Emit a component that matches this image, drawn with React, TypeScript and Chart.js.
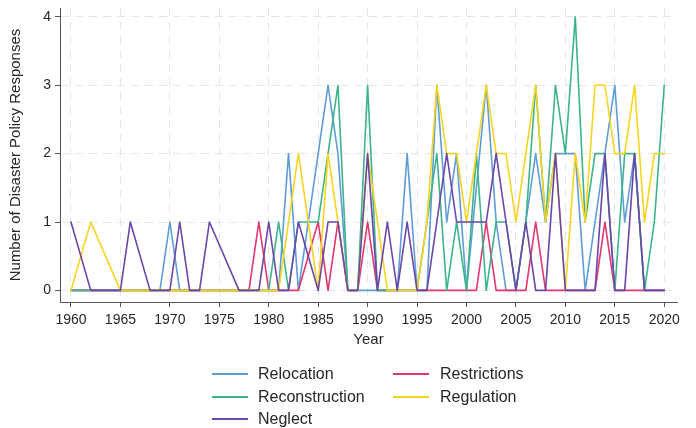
import React, { useEffect, useRef } from 'react';
import { Chart, registerables } from 'chart.js';

Chart.register(...registerables);

// Years present in the data (years with no observations are absent and the lines connect across them)
const years = [
  1960, 1962, 1965, 1966, 1968, 1969, 1970, 1971, 1972, 1973, 1974,
  1977, 1978, 1979, 1980, 1981, 1982, 1983,
  1985, 1986, 1987, 1988, 1989, 1990, 1991, 1992, 1993, 1994,
  1995, 1996, 1997, 1998, 1999, 2000, 2001, 2002, 2003, 2004,
  2005, 2006, 2007, 2008, 2009, 2010, 2011, 2012, 2013, 2014,
  2015, 2016, 2017, 2018, 2019, 2020,
];

const relocation = [
  0, 0, 0, 0, 0, 0, 1, 0, 0, 0, 0,
  0, 0, 0, 0, 0, 2, 0,
  2, 3, 2, 0, 0, 0, 0, 0, 0, 2,
  0, 0, 3, 1, 2, 0, null, 3, 1, 0,
  0, 1, 2, 1, 2, 2, 2, 0, 1, 2,
  3, 1, 2, 0, 0, 0,
];

const restrictions = [
  0, 0, 0, 0, 0, 0, 0, 0, 0, 0, 0,
  0, 0, 1, 0, 0, 0, 0,
  1, 0, 1, 0, 0, 1, 0, 0, 0, 0,
  0, 0, 0, 0, 0, 0, 0, 1, 0, 0,
  0, 0, 1, 0, 0, 0, 0, 0, 0, 1,
  0, 0, 0, 0, 0, 0,
];

const reconstruction = [
  0, 0, 0, 0, 0, 0, 0, 0, 0, 0, 0,
  0, 0, 0, 0, 1, 0, 1,
  1, 2, 3, 0, 0, 3, 0, 0, 0, 0,
  0, 1, 2, 0, 1, 0, 2, 0, 1, 1,
  0, 1, 3, 1, 3, 2, 4, 1, 2, 2,
  0, 2, 2, 0, 1, 3,
];

const regulation = [
  0, 1, 0, 0, 0, 0, 0, 0, 0, 0, 0,
  0, 0, 0, 0, 0, 1, 2,
  0, 2, 1, 0, 0, 2, 1, 0, 0, 0,
  0, 1, 3, 2, 2, 1, 2, 3, 2, 2,
  1, 2, 3, 1, 2, 0, 2, 1, 3, 3,
  2, 2, 3, 1, 2, 2,
];

const neglect = [
  1, 0, 0, 1, 0, 0, 0, 1, 0, 0, 1,
  0, 0, 0, 1, 0, 0, 1,
  0, 1, 1, 0, 0, 2, 0, 1, 0, 1,
  0, 0, 1, 2, 1, 1, 1, 1, 2, 1,
  0, 1, 0, 0, 2, 0, 0, 0, 0, 2,
  0, 0, 2, 0, 0, 0,
];

const xTicks = [1960, 1965, 1970, 1975, 1980, 1985, 1990, 1995, 2000, 2005, 2010, 2015, 2020];
const yTicks = [0, 1, 2, 3, 4];

const seriesNames = ['Relocation', 'Restrictions', 'Reconstruction', 'Regulation', 'Neglect'];
const seriesColors = ['#5f9dd8', '#e2366c', '#3db38a', '#f6d41f', '#6a47a8'];
// drawing order: lower number drawn on top
const seriesOrder = [5, 4, 3, 2, 1];
const seriesValues = [relocation, restrictions, reconstruction, regulation, neglect];

const FONT = '"Liberation Sans", Arial, Helvetica, sans-serif';
const TEXT = '#262626';

export default function App() {
  const ref = useRef<HTMLCanvasElement | null>(null);

  useEffect(() => {
    if (!ref.current) return;
    const datasets = seriesNames.map((name, k) => ({
      label: name,
      data: years.map((yr, i) => ({ x: yr, y: seriesValues[k][i] })),
      borderColor: seriesColors[k],
      backgroundColor: seriesColors[k],
      borderWidth: 1.6,
      borderJoinStyle: 'round',
      borderCapStyle: 'round',
      pointRadius: 0,
      tension: 0,
      spanGaps: true,
      fill: false,
      order: seriesOrder[k],
    }));

    const chart = new Chart(ref.current, {
      type: 'line',
      data: { datasets },
      options: {
        animation: false,
        responsive: false,
        maintainAspectRatio: false,
        layout: { padding: { left: 0, right: 19, top: 8, bottom: 78 } },
        plugins: {
          legend: { display: false },
          tooltip: { enabled: false },
        },
        scales: {
          x: {
            type: 'linear',
            min: 1958.89,
            max: 2021.29,
            afterBuildTicks: (axis: any) => {
              axis.ticks = xTicks.map((v) => ({ value: v }));
            },
            afterFit: (s: any) => {
              s.height = 48;
              s.paddingLeft = 0;
              s.paddingRight = 0;
            },
            ticks: {
              font: { family: FONT, size: 14 },
              color: TEXT,
              padding: 5,
              maxRotation: 0,
              autoSkip: false,
              callback: (v: any) => String(v),
            },
            grid: {
              color: '#e3e7ea',
              lineWidth: 1,
              tickColor: '#555555',
              tickLength: 5,
              tickWidth: 1,
            },
            border: { display: true, color: '#555555', width: 1, dash: [8, 6] },
            title: {
              display: true,
              text: 'Year',
              font: { family: FONT, size: 15 },
              color: TEXT,
              padding: { top: 0, bottom: 1 },
            },
          },
          y: {
            type: 'linear',
            min: -0.17,
            max: 4.13,
            afterBuildTicks: (axis: any) => {
              axis.ticks = yTicks.map((v) => ({ value: v }));
            },
            afterFit: (s: any) => {
              s.width = 60;
              s.paddingTop = 0;
              s.paddingBottom = 0;
            },
            ticks: {
              font: { family: FONT, size: 14 },
              color: TEXT,
              padding: 4,
              callback: (v: any) => String(v),
            },
            grid: {
              color: '#e3e7ea',
              lineWidth: 1,
              tickColor: '#555555',
              tickLength: 5,
              tickWidth: 1,
            },
            border: { display: true, color: '#555555', width: 1, dash: [8, 6] },
            title: {
              display: true,
              text: 'Number of Disaster Policy Responses',
              font: { family: FONT, size: 15 },
              color: TEXT,
              padding: { top: 7, bottom: 0 },
            },
          },
        },
      },
    } as any);

    return () => chart.destroy();
  }, []);

  // legend layout: [series index, line left x, text left x, center y]
  const legendItems: Array<[number, number, number, number]> = [
    [0, 212, 258, 374],
    [1, 393, 440, 374],
    [2, 212, 258, 396.5],
    [3, 393, 440, 396.5],
    [4, 212, 258, 418.5],
  ];

  return (
    <div
      style={{
        position: 'fixed',
        left: 0,
        top: 0,
        width: 696,
        height: 428,
        background: '#ffffff',
        overflow: 'hidden',
      }}
    >
      <canvas ref={ref} width={696} height={428} style={{ display: 'block', width: 696, height: 428 }} />
      {legendItems.map(([k, lx, tx, cy]) => (
        <React.Fragment key={seriesNames[k]}>
          <div
            style={{
              position: 'absolute',
              left: lx,
              top: cy - 1,
              width: 36,
              height: 2,
              background: seriesColors[k],
            }}
          />
          <div
            style={{
              position: 'absolute',
              left: tx,
              top: cy - 10,
              height: 20,
              lineHeight: '20px',
              fontFamily: FONT,
              fontSize: 16,
              color: TEXT,
              whiteSpace: 'nowrap',
            }}
          >
            {seriesNames[k]}
          </div>
        </React.Fragment>
      ))}
    </div>
  );
}
